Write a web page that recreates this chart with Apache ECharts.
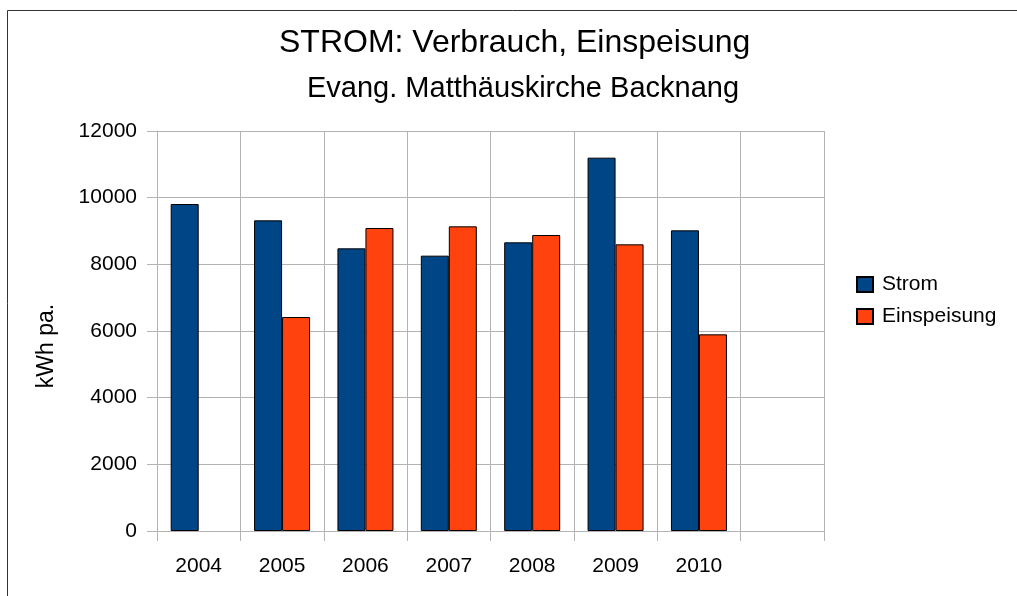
<!DOCTYPE html>
<html>
<head>
<meta charset="utf-8">
<script src="https://cdn.jsdelivr.net/npm/echarts@6/dist/echarts.min.js"></script>
<style>
  html, body { margin: 0; padding: 0; background: #fff; }
  #chart { width: 1017px; height: 596px; }
</style>
</head>
<body>
<div id="chart"></div>
<script>
// Jahre (letzter Platz bleibt leer wie im Original)
const years = ['2004', '2005', '2006', '2007', '2008', '2009', '2010', ''];
const strom = [9810, 9320, 8480, 8260, 8660, 11200, 9020, '-'];
const einspeisung = ['-', 6420, 9090, 9140, 8880, 8600, 5900, '-'];

const chart = echarts.init(document.getElementById('chart'));
const font = 'Liberation Sans, Arial, sans-serif';
const gridColor = '#b3b3b3';

chart.setOption({
  animation: false,
  textStyle: { fontFamily: font, color: '#000' },
  title: [
    {
      text: 'STROM: Verbrauch, Einspeisung',
      left: 279, top: 27, padding: 0,
      textStyle: { fontFamily: font, fontSize: 32, fontWeight: 'normal', color: '#000' }
    },
    {
      text: 'Evang. Matthäuskirche Backnang',
      left: 307, top: 74, padding: 0,
      textStyle: { fontFamily: font, fontSize: 29, fontWeight: 'normal', color: '#000' }
    }
  ],
  graphic: [{
    type: 'rect',
    shape: { x: 7.5, y: 10.5, width: 2000, height: 2000 },
    style: { fill: 'none', stroke: '#333', lineWidth: 1 },
    silent: true
  }],
  legend: {
    orient: 'vertical',
    left: 856, top: 274, padding: 0,
    itemWidth: 16, itemHeight: 15, itemGap: 11,
    icon: 'rect',
    textStyle: { fontFamily: font, fontSize: 21, color: '#000', padding: [0, 0, 0, 4] },
    data: ['Strom', 'Einspeisung']
  },
  grid: { left: 157, top: 131, width: 667, height: 400 },
  xAxis: {
    type: 'category',
    data: years,
    axisLine: { lineStyle: { color: gridColor } },
    axisTick: { show: true, length: 10, lineStyle: { color: gridColor } },
    splitLine: { show: true, lineStyle: { color: gridColor } },
    axisLabel: { fontSize: 21, color: '#000', margin: 25, fontFamily: font }
  },
  yAxis: {
    type: 'value',
    min: 0, max: 12000, interval: 2000,
    name: 'kWh pa.',
    nameLocation: 'middle',
    nameRotate: 90,
    nameGap: 99,
    nameTextStyle: { fontSize: 23, color: '#000', fontFamily: font, padding: [0, 30, 0, 0] },
    axisLine: { show: true, lineStyle: { color: gridColor } },
    axisTick: { show: true, length: 10, lineStyle: { color: gridColor } },
    splitLine: { show: true, lineStyle: { color: gridColor } },
    axisLabel: {
      fontSize: 21, color: '#000', margin: 20, fontFamily: font,
      formatter: (v) => String(v)
    }
  },
  series: [
    {
      name: 'Strom',
      type: 'bar',
      barWidth: 28,
      barGap: '0%',
      data: strom,
      itemStyle: { color: '#004586', borderColor: '#000', borderWidth: 1 }
    },
    {
      name: 'Einspeisung',
      type: 'bar',
      barWidth: 28,
      barGap: '0%',
      data: einspeisung,
      itemStyle: { color: '#ff420e', borderColor: '#000', borderWidth: 1 }
    }
  ]
});
</script>
</body>
</html>
